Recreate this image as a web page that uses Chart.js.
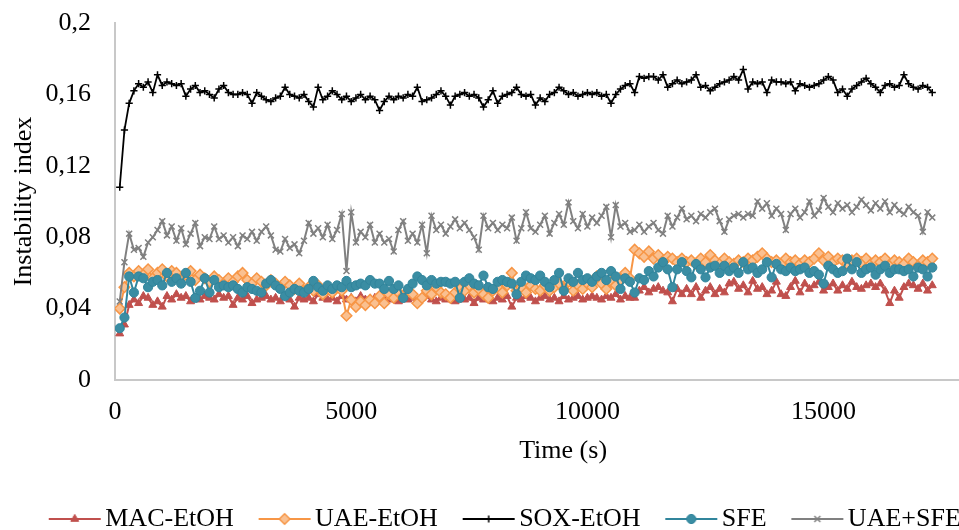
<!DOCTYPE html>
<html>
<head>
<meta charset="utf-8">
<title>Instability index</title>
<script src="https://cdn.jsdelivr.net/npm/chart.js"></script>
<style>
  html, body { margin: 0; padding: 0; background: #fff; }
  #wrap { width: 959px; height: 530px; overflow: hidden; position: relative; }
  #chart { display: block; }
</style>
</head>
<body>
<div id="wrap"><canvas id="chart" width="1018" height="542"></canvas></div>
<script>
'use strict';

// Readings every 100 s, starting at 100 s.
const timeStep = 100;

const macEtoh = [
  0.026, 0.031, 0.042, 0.045, 0.043, 0.047, 0.046, 0.042, 0.044, 0.041,
  0.047, 0.045, 0.048, 0.046, 0.047, 0.044, 0.046, 0.045, 0.047, 0.046,
  0.045, 0.048, 0.046, 0.047, 0.042, 0.046, 0.045, 0.047, 0.043, 0.045,
  0.046, 0.047, 0.045, 0.046, 0.044, 0.047, 0.045, 0.041, 0.046, 0.045,
  0.046, 0.044, 0.048, 0.046, 0.045, 0.046, 0.044, 0.047, 0.045, 0.046,
  0.044, 0.047, 0.045, 0.043, 0.046, 0.044, 0.047, 0.045, 0.046, 0.044,
  0.047, 0.045, 0.046, 0.044, 0.046, 0.047, 0.045, 0.044, 0.046, 0.045,
  0.046, 0.044, 0.047, 0.045, 0.046, 0.043, 0.046, 0.045, 0.047, 0.044,
  0.046, 0.045, 0.047, 0.041, 0.046, 0.045, 0.047, 0.046, 0.044, 0.046,
  0.047, 0.045, 0.046, 0.044, 0.047, 0.045, 0.046, 0.047, 0.045, 0.046,
  0.047, 0.046, 0.045, 0.047, 0.046, 0.048, 0.045, 0.047, 0.046, 0.046,
  0.050, 0.052, 0.049, 0.051, 0.052, 0.050, 0.049, 0.044, 0.051, 0.048,
  0.051, 0.048, 0.052, 0.046, 0.050, 0.052, 0.048, 0.051, 0.049, 0.054,
  0.055, 0.051, 0.053, 0.049, 0.0555, 0.051, 0.052, 0.048, 0.050, 0.055,
  0.048, 0.047, 0.052, 0.0555, 0.049, 0.054, 0.051, 0.053, 0.055, 0.050,
  0.052, 0.054, 0.050, 0.053, 0.051, 0.055, 0.052, 0.051, 0.053, 0.054,
  0.052, 0.054, 0.050, 0.043, 0.050, 0.046, 0.052, 0.054, 0.053, 0.051,
  0.054, 0.050, 0.053
];

const uaeEtoh = [
  0.040, 0.052, 0.060, 0.058, 0.061, 0.059, 0.062, 0.057, 0.060, 0.062,
  0.058, 0.061, 0.060, 0.057, 0.059, 0.061, 0.056, 0.059, 0.057, 0.055,
  0.058, 0.056, 0.054, 0.057, 0.055, 0.058, 0.060, 0.056, 0.054, 0.057,
  0.055, 0.053, 0.056, 0.054, 0.052, 0.055, 0.053, 0.051, 0.054, 0.050,
  0.052, 0.050, 0.053, 0.048, 0.051, 0.049, 0.052, 0.050, 0.036, 0.045,
  0.041, 0.044, 0.042, 0.045, 0.043, 0.047, 0.043, 0.048, 0.046, 0.049,
  0.047, 0.050, 0.048, 0.043, 0.046, 0.050, 0.048, 0.052, 0.049, 0.048,
  0.046, 0.049, 0.051, 0.050, 0.053, 0.049, 0.051, 0.048, 0.046, 0.050,
  0.052, 0.049, 0.053, 0.060, 0.050, 0.052, 0.049, 0.053, 0.051, 0.050,
  0.053, 0.050, 0.052, 0.054, 0.051, 0.055, 0.050, 0.053, 0.051, 0.054,
  0.052, 0.058, 0.054, 0.051, 0.055, 0.053, 0.056, 0.060, 0.057, 0.073,
  0.071, 0.069, 0.072, 0.068, 0.070, 0.066, 0.069, 0.068, 0.066, 0.068,
  0.066, 0.067, 0.065, 0.068, 0.066, 0.070, 0.067, 0.065, 0.068, 0.066,
  0.065, 0.067, 0.066, 0.068, 0.067, 0.069, 0.071, 0.068, 0.066, 0.067,
  0.065, 0.068, 0.066, 0.067, 0.065, 0.067, 0.066, 0.068, 0.071, 0.067,
  0.069, 0.066, 0.068, 0.067, 0.065, 0.067, 0.068, 0.066, 0.068, 0.065,
  0.067, 0.066, 0.068, 0.064, 0.067, 0.066, 0.065, 0.068, 0.066, 0.064,
  0.067, 0.066, 0.068
];

const soxEtoh = [
  0.108, 0.140, 0.155, 0.162, 0.166, 0.164, 0.167, 0.161, 0.171, 0.165,
  0.167, 0.166, 0.165, 0.166, 0.159, 0.163, 0.165, 0.161, 0.162, 0.160,
  0.158, 0.163, 0.165, 0.161, 0.160, 0.160, 0.161, 0.160, 0.155, 0.161,
  0.159, 0.157, 0.156, 0.158, 0.159, 0.164, 0.160, 0.159, 0.158, 0.160,
  0.156, 0.153, 0.164, 0.157, 0.159, 0.162, 0.160, 0.157, 0.159, 0.156,
  0.158, 0.160, 0.157, 0.159, 0.157, 0.151, 0.156, 0.159, 0.157, 0.159,
  0.158, 0.160, 0.159, 0.164, 0.156, 0.157, 0.158, 0.160, 0.162, 0.159,
  0.154, 0.159, 0.160, 0.161, 0.159, 0.160, 0.158, 0.153, 0.157, 0.162,
  0.155, 0.159, 0.160, 0.161, 0.164, 0.160, 0.159, 0.160, 0.154, 0.158,
  0.156, 0.160, 0.161, 0.164, 0.162, 0.160, 0.161, 0.159, 0.160, 0.161,
  0.160, 0.161, 0.159, 0.160, 0.155, 0.160, 0.163, 0.165, 0.166, 0.161,
  0.170, 0.169, 0.170, 0.170, 0.168, 0.171, 0.164, 0.166, 0.168, 0.166,
  0.167, 0.168, 0.171, 0.164, 0.165, 0.162, 0.164, 0.166, 0.167, 0.168,
  0.170, 0.168, 0.174, 0.163, 0.167, 0.166, 0.167, 0.161, 0.168, 0.167,
  0.167, 0.166, 0.167, 0.162, 0.166, 0.165, 0.164, 0.165, 0.166, 0.168,
  0.170, 0.168, 0.161, 0.163, 0.159, 0.163, 0.165, 0.167, 0.169, 0.166,
  0.164, 0.161, 0.165, 0.166, 0.164, 0.165, 0.171, 0.166, 0.164, 0.163,
  0.165, 0.164, 0.161
];

const sfe = [
  0.029, 0.035, 0.058, 0.049, 0.058, 0.057, 0.052, 0.055, 0.056, 0.053,
  0.060, 0.055, 0.057, 0.054, 0.060, 0.055, 0.046, 0.050, 0.057, 0.049,
  0.056, 0.052, 0.053, 0.052, 0.053, 0.051, 0.049, 0.052, 0.051, 0.050,
  0.049, 0.054, 0.056, 0.053, 0.051, 0.047, 0.049, 0.051, 0.050, 0.049,
  0.051, 0.0555, 0.052, 0.050, 0.053, 0.051, 0.053, 0.052, 0.0555, 0.052,
  0.053, 0.054, 0.053, 0.056, 0.054, 0.054, 0.051, 0.0555, 0.051, 0.053,
  0.046, 0.051, 0.054, 0.058, 0.056, 0.053, 0.056, 0.054, 0.055, 0.055,
  0.054, 0.055, 0.046, 0.055, 0.057, 0.054, 0.053, 0.0585, 0.052, 0.051,
  0.055, 0.056, 0.055, 0.054, 0.048, 0.055, 0.0585, 0.057, 0.056, 0.0585,
  0.055, 0.052, 0.056, 0.060, 0.050, 0.057, 0.055, 0.060, 0.056, 0.057,
  0.055, 0.058, 0.060, 0.056, 0.061, 0.058, 0.051, 0.057, 0.055, 0.049,
  0.057, 0.056, 0.061, 0.058, 0.063, 0.066, 0.062, 0.052, 0.062, 0.066,
  0.061, 0.0575, 0.065, 0.062, 0.0575, 0.063, 0.064, 0.060, 0.064, 0.061,
  0.063, 0.060, 0.066, 0.062, 0.063, 0.060, 0.062, 0.066, 0.0575, 0.065,
  0.062, 0.061, 0.063, 0.061, 0.062, 0.063, 0.060, 0.061, 0.059, 0.054,
  0.064, 0.062, 0.060, 0.061, 0.068, 0.062, 0.066, 0.060, 0.062, 0.063,
  0.059, 0.062, 0.064, 0.060, 0.062, 0.062, 0.061, 0.062, 0.058, 0.063,
  0.062, 0.058, 0.063
];

const uaeSfe = [
  0.044, 0.066, 0.082, 0.073, 0.074, 0.069, 0.077, 0.080, 0.084, 0.089,
  0.081, 0.086, 0.078, 0.085, 0.076, 0.082, 0.088, 0.075, 0.080, 0.079,
  0.086, 0.079, 0.081, 0.077, 0.080, 0.075, 0.081, 0.079, 0.083, 0.078,
  0.083, 0.086, 0.081, 0.073, 0.072, 0.079, 0.074, 0.076, 0.071, 0.078,
  0.088, 0.082, 0.085, 0.080, 0.087, 0.079, 0.084, 0.093, 0.061, 0.094,
  0.077, 0.083, 0.080, 0.087, 0.077, 0.082, 0.077, 0.079, 0.072, 0.084,
  0.089, 0.078, 0.082, 0.077, 0.087, 0.071, 0.092, 0.084, 0.087, 0.082,
  0.086, 0.090, 0.085, 0.088, 0.084, 0.080, 0.073, 0.092, 0.085, 0.088,
  0.084, 0.087, 0.085, 0.091, 0.078, 0.085, 0.094, 0.085, 0.083, 0.087,
  0.092, 0.082, 0.088, 0.093, 0.087, 0.0995, 0.089, 0.085, 0.093, 0.086,
  0.091, 0.088, 0.092, 0.097, 0.080, 0.098, 0.086, 0.088, 0.083, 0.084,
  0.087, 0.083, 0.086, 0.088, 0.084, 0.082, 0.092, 0.086, 0.091, 0.096,
  0.090, 0.092, 0.089, 0.093, 0.091, 0.094, 0.096, 0.089, 0.083, 0.090,
  0.092, 0.093, 0.091, 0.093, 0.092, 0.100, 0.096, 0.099, 0.092, 0.096,
  0.093, 0.084, 0.093, 0.096, 0.091, 0.094, 0.100, 0.092, 0.095, 0.102,
  0.097, 0.094, 0.099, 0.096, 0.098, 0.094, 0.097, 0.101, 0.098, 0.095,
  0.099, 0.096, 0.100, 0.094, 0.098, 0.095, 0.093, 0.097, 0.094, 0.092,
  0.083, 0.094, 0.091
];

const seriesNames = ['MAC-EtOH', 'UAE-EtOH', 'SOX-EtOH', 'SFE', 'UAE+SFE'];
const xTickValues = [0, 5000, 10000, 15000];
const yTickValues = [0, 0.04, 0.08, 0.12, 0.16, 0.2];

const FONT = "'Liberation Serif', 'Times New Roman', serif";

const times = macEtoh.map((_, i) => (i + 1) * timeStep);
const toPoints = (vals) => vals.map((y, i) => ({ x: times[i], y }));
const commaNum = (v) => String(+v.toFixed(2)).replace('.', ',');

function series(label, vals, color, style, extra) {
  return Object.assign({
    label,
    data: toPoints(vals),
    borderColor: color,
    borderWidth: 2,
    pointStyle: style,
    pointBackgroundColor: color,
    pointBorderColor: color,
    pointBorderWidth: 1,
    pointHoverRadius: 5,
    tension: 0,
    fill: false,
  }, extra);
}

// Excel draws the first series at the bottom, so higher `order` = further back.
const datasets = [
  series(seriesNames[0], macEtoh, '#C0504D', 'triangle', { pointRadius: 4.6, order: 5 }),
  series(seriesNames[1], uaeEtoh, '#F79646', 'rectRot', { pointRadius: 5.3, pointBackgroundColor: '#FAC090', pointBorderWidth: 1.5, order: 4 }),
  series(seriesNames[2], soxEtoh, '#000000', 'cross', { pointRadius: 3.6, pointBorderWidth: 1.5, borderWidth: 1.8, order: 3 }),
  series(seriesNames[3], sfe, '#31859C', 'circle', { pointRadius: 4.6, pointBackgroundColor: '#3A8DA3', order: 2 }),
  series(seriesNames[4], uaeSfe, '#808080', 'crossRot', { pointRadius: 4.2, pointBorderWidth: 1.5, order: 1 }),
];

// Legend swatch: a short line with the series marker in the middle.
function legendIcon(ds) {
  const c = document.createElement('canvas');
  c.width = 60; c.height = 18;
  const g = c.getContext('2d');
  g.strokeStyle = ds.borderColor;
  g.lineWidth = ds.borderWidth;
  g.beginPath(); g.moveTo(4, 9); g.lineTo(56, 9); g.stroke();
  g.fillStyle = ds.pointBackgroundColor;
  g.strokeStyle = ds.pointBorderColor;
  g.lineWidth = ds.pointBorderWidth;
  Chart.helpers.drawPoint(g, { pointStyle: ds.pointStyle, radius: ds.pointRadius, borderWidth: ds.pointBorderWidth, rotation: 0 }, 30, 9);
  return c;
}
const legendIcons = datasets.map(legendIcon);

new Chart(document.getElementById('chart'), {
  type: 'line',
  data: { datasets },
  options: {
    responsive: false,
    animation: false,
    devicePixelRatio: 1,
    layout: { padding: { left: 0, top: 23, right: 0, bottom: 0 } },
    plugins: {
      tooltip: { enabled: false },
      legend: {
        position: 'bottom',
        labels: {
          usePointStyle: true,
          pointStyleWidth: 35,
          padding: 33.3,
          color: '#000',
          font: { family: FONT, size: 26 },
          generateLabels: (chart) => chart.data.datasets.map((ds, i) => ({
            text: ds.label,
            pointStyle: legendIcons[i],
            datasetIndex: i,
            hidden: false,
            lineWidth: 0,
            fillStyle: 'transparent',
            strokeStyle: 'transparent',
            fontColor: '#000',
          })),
        },
      },
    },
    scales: {
      x: {
        type: 'linear',
        min: 0,
        max: 18971,
        grid: { display: false, drawTicks: false },
        border: { display: true, color: '#C8C8C8', width: 2 },
        afterBuildTicks: (scale) => { scale.ticks = xTickValues.map(value => ({ value })); },
        afterFit: (scale) => { scale.height = 92.7; },
        ticks: { color: '#000', font: { family: FONT, size: 26 }, padding: 17, maxRotation: 0, callback: (v) => String(v) },
        title: { display: true, text: 'Time (s)', color: '#000', font: { family: FONT, size: 26 }, padding: { top: 0, bottom: 6 } },
      },
      y: {
        min: 0,
        max: 0.2,
        grid: { display: false, drawTicks: false },
        border: { display: true, color: '#C8C8C8', width: 2 },
        afterBuildTicks: (scale) => { scale.ticks = yTickValues.map(value => ({ value })); },
        afterFit: (scale) => {
          scale.width = 115;
          // keep the label gap from pushing the plot down
          scale.paddingTop = 10;
          scale.paddingBottom = 0;
        },
        ticks: { color: '#000', font: { family: FONT, size: 26 }, padding: 24, callback: (v) => commaNum(v) },
        title: { display: true, text: 'Instability index', color: '#000', font: { family: FONT, size: 26 }, padding: { top: 9, bottom: 0 } },
      },
    },
  },
});
</script>
</body>
</html>
